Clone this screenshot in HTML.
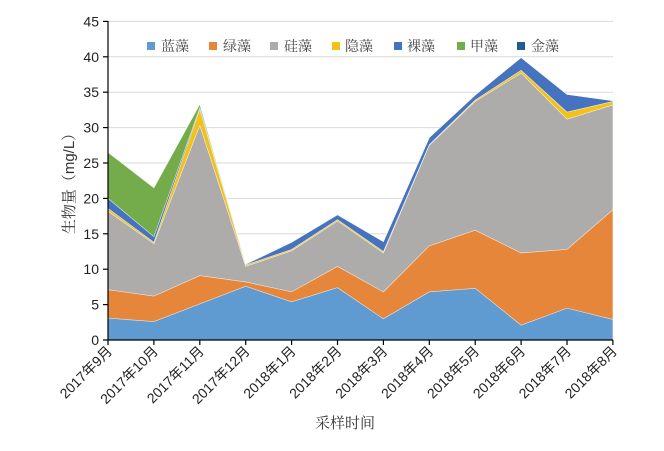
<!DOCTYPE html>
<html><head><meta charset="utf-8"><style>body{margin:0;background:#fff}svg{display:block}</style></head><body>
<svg width="664" height="451" xmlns="http://www.w3.org/2000/svg" font-family="'Liberation Sans','Noto Sans CJK SC',sans-serif">
<g stroke="#d9d9d9" stroke-width="1">
<line x1="108" x2="613" y1="304.6" y2="304.6"/><line x1="108" x2="613" y1="269.2" y2="269.2"/><line x1="108" x2="613" y1="233.8" y2="233.8"/><line x1="108" x2="613" y1="198.4" y2="198.4"/><line x1="108" x2="613" y1="163" y2="163"/><line x1="108" x2="613" y1="127.6" y2="127.6"/><line x1="108" x2="613" y1="92.2" y2="92.2"/><line x1="108" x2="613" y1="56.8" y2="56.8"/><line x1="108" x2="613" y1="21.4" y2="21.4"/>
</g>
<g id="areas" stroke="#fff" stroke-width="0.6" stroke-opacity="0.6"></g>
<g stroke="#000" stroke-width="1.2">
<line x1="108" y1="21" x2="108" y2="340"/><line x1="108" y1="340" x2="613" y2="340"/>
<line x1="103" y1="340" x2="108" y2="340"/><line x1="103" y1="304.6" x2="108" y2="304.6"/><line x1="103" y1="269.2" x2="108" y2="269.2"/><line x1="103" y1="233.8" x2="108" y2="233.8"/><line x1="103" y1="198.4" x2="108" y2="198.4"/><line x1="103" y1="163" x2="108" y2="163"/><line x1="103" y1="127.6" x2="108" y2="127.6"/><line x1="103" y1="92.2" x2="108" y2="92.2"/><line x1="103" y1="56.8" x2="108" y2="56.8"/><line x1="103" y1="21.4" x2="108" y2="21.4"/>
</g>
<g id="xt" stroke="#000" stroke-width="1.2"></g>
<g font-size="14" fill="#222" text-anchor="end">
<text x="99" y="345">0</text><text x="99" y="309.6">5</text><text x="99" y="274.2">10</text><text x="99" y="238.8">15</text><text x="99" y="203.4">20</text><text x="99" y="168">25</text><text x="99" y="132.6">30</text><text x="99" y="97.2">35</text><text x="99" y="61.8">40</text><text x="99" y="26.4">45</text>
</g>
<g id="xl" font-size="14" fill="#222" text-anchor="end"></g>
<text x="345" y="428" font-size="15" fill="#333" text-anchor="middle" font-family="'Liberation Serif','Noto Serif CJK SC',serif">采样时间</text>
<text transform="translate(74,180) rotate(-90)" font-size="15" fill="#333" text-anchor="middle" font-family="'Liberation Sans','Noto Serif CJK SC',serif">生物量（mg/L）</text>
<g font-size="14" fill="#444" font-family="'Liberation Serif','Noto Serif CJK SC',serif">
<rect x="147" y="42" width="8" height="8" fill="#5f9bd0"/><text x="161" y="51">蓝藻</text>
<rect x="209" y="42" width="8" height="8" fill="#e5863a"/><text x="223" y="51">绿藻</text>
<rect x="270" y="42" width="8" height="8" fill="#aeacaa"/><text x="284" y="51">硅藻</text>
<rect x="332" y="42" width="8" height="8" fill="#f2c11c"/><text x="345" y="51">隐藻</text>
<rect x="394" y="42" width="8" height="8" fill="#4673c0"/><text x="407" y="51">裸藻</text>
<rect x="457" y="42" width="8" height="8" fill="#74ac4b"/><text x="470" y="51">甲藻</text>
<rect x="517" y="42" width="8" height="8" fill="#235d8f"/><text x="531" y="51">金藻</text>
</g>
</svg>
<script>
var X=[],i;for(i=0;i<12;i++)X.push(108+i*45.9);
var L=[
[3.1,2.6,5.1,7.6,5.4,7.4,3.0,6.8,7.3,2.1,4.5,2.9],
[7.1,6.2,9.1,8.2,6.8,10.4,6.8,13.3,15.5,12.3,12.8,18.4],
[18.2,13.6,30.3,10.4,12.6,16.8,12.3,27.5,33.7,37.7,31.2,33.2],
[18.6,13.8,32.6,10.6,12.8,17.0,12.5,27.6,33.9,38.1,32.2,33.7],
[20.0,14.6,32.8,10.7,13.8,17.7,13.9,28.6,34.6,39.9,34.7,33.8],
[26.5,21.5,33.3,10.7,13.8,17.7,13.9,28.6,34.6,39.9,34.7,33.8],
[26.5,21.5,33.3,10.7,13.8,17.7,13.9,28.6,34.6,39.9,34.7,33.8]];
var C=["#5f9bd0","#e5863a","#aeacaa","#f2c11c","#4673c0","#74ac4b","#235d8f"];
function Y(v){return 340-v*7.08}
var g=document.getElementById('areas'),s='';
for(var k=0;k<7;k++){var p=[];for(i=0;i<12;i++)p.push(X[i]+','+Y(L[k][i]));
for(i=11;i>=0;i--)p.push(X[i]+','+Y(k?L[k-1][i]:0));
s+='<polygon points="'+p.join(' ')+'" fill="'+C[k]+'"/>';}
g.innerHTML=s;
var n=['2017年9月','2017年10月','2017年11月','2017年12月','2018年1月','2018年2月','2018年3月','2018年4月','2018年5月','2018年6月','2018年7月','2018年8月'];
var t='',l='';for(i=0;i<12;i++){t+='<line x1="'+X[i]+'" x2="'+X[i]+'" y1="340" y2="345"/>';
l+='<text transform="translate('+(X[i]+5)+',352) rotate(-45)">'+n[i]+'</text>';}
document.getElementById('xt').innerHTML=t;document.getElementById('xl').innerHTML=l;
</script>
</body></html>
